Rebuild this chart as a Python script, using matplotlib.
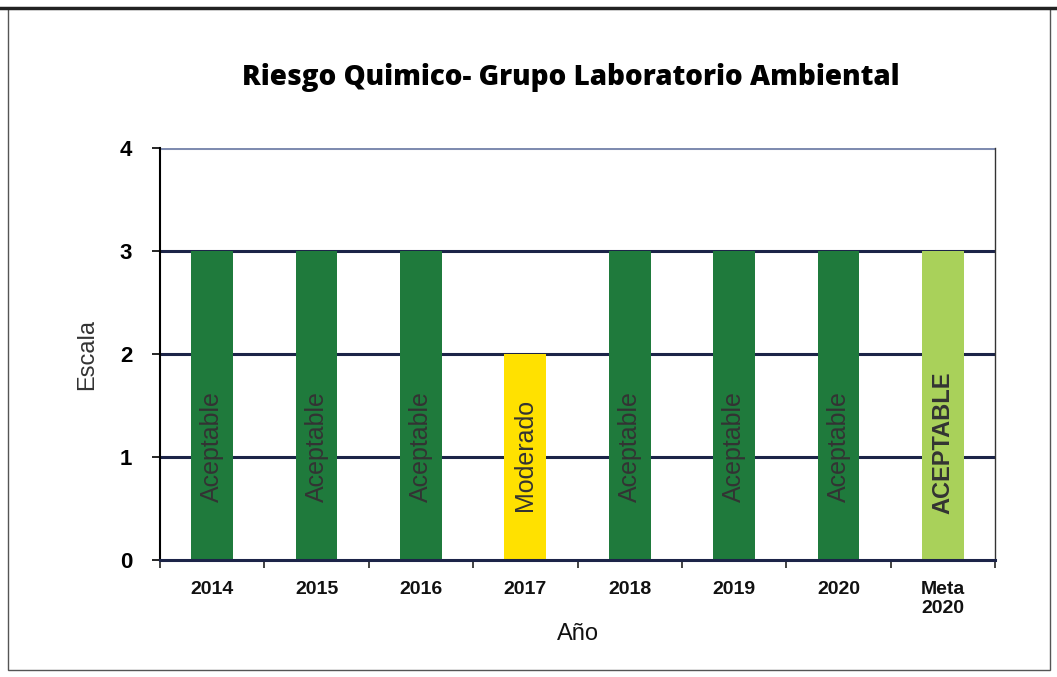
import numpy as np
import matplotlib.pyplot as plt
from matplotlib.patches import Rectangle

# datos
categorias = ['2014', '2015', '2016', '2017', '2018', '2019', '2020', 'Meta\n2020']
valores = [3, 3, 3, 2, 3, 3, 3, 3]
etiquetas = ['Aceptable', 'Aceptable', 'Aceptable', 'Moderado', 'Aceptable',
             'Aceptable', 'Aceptable', 'ACEPTABLE']
colores = ['#1f7a3c', '#1f7a3c', '#1f7a3c', '#ffe100', '#1f7a3c',
           '#1f7a3c', '#1f7a3c', '#a9d15a']

fig = plt.figure(figsize=(10.57, 6.77), dpi=100)
fig.patches.append(Rectangle((0.008, 0.01), 0.985, 0.978, transform=fig.transFigure,
                             fill=False, edgecolor='#555555', linewidth=1.0))
fig.add_artist(plt.Line2D([0, 1], [0.988, 0.988], transform=fig.transFigure,
                          color='#222222', linewidth=2.5))

ax = fig.add_axes([0.1514, 0.1728, 0.79, 0.6086])
x = np.arange(len(categorias))

for y in [1, 2, 3]:
    ax.axhline(y, color='#1c2448', linewidth=2.2, zorder=1)
ax.axhline(4, color='#7f8cb0', linewidth=2.2, zorder=1)

ax.bar(x, valores, width=0.4, color=colores, zorder=2)

for i, t in enumerate(etiquetas):
    if t == 'Moderado':
        yc = 1.02
    elif t == 'ACEPTABLE':
        yc = 1.14
    else:
        yc = 1.10
    ax.text(x[i], yc, t, rotation=90, ha='center', va='center', color='#333333',
            fontsize=18 if t != 'ACEPTABLE' else 17, family='Liberation Sans',
            fontweight='bold' if t == 'ACEPTABLE' else 'normal', zorder=3)

ax.set_xlim(-0.5, len(categorias) - 0.5)
ax.set_ylim(0, 4)
ax.set_yticks([0, 1, 2, 3, 4])
ax.set_xticks(np.arange(len(categorias) + 1) - 0.5)
ax.set_xticklabels([])
ax.set_xticks(x, minor=True)
ax.set_xticklabels(categorias, minor=True, fontsize=14, fontweight='bold',
                   family='Liberation Sans', color='#111111')
ax.tick_params(axis='x', which='minor', length=0, pad=15)
ax.tick_params(axis='x', which='major', length=6, width=1.2, color='#222222')
ax.tick_params(axis='y', length=6, width=1.2, labelsize=16, pad=14)
for lab in ax.get_yticklabels():
    lab.set_fontweight('bold')
    lab.set_family('Liberation Sans')

ax.spines['top'].set_visible(False)
ax.spines['left'].set_linewidth(1.5)
ax.spines['bottom'].set_linewidth(2.2)
ax.spines['bottom'].set_color('#1c2448')
ax.spines['right'].set_linewidth(1.0)
ax.spines['right'].set_color('#333333')

ax.set_ylabel('Escala', fontsize=17, family='Liberation Sans', color='#333333', labelpad=16)
ax.set_xlabel('Año', fontsize=17, family='Liberation Sans', color='#111111', labelpad=4)
fig.text(0.54, 0.885, 'Riesgo Quimico- Grupo Laboratorio Ambiental', ha='center', va='center',
         fontsize=20, fontweight='heavy', family='Open Sans')

fig.savefig('out.png', dpi=100)
